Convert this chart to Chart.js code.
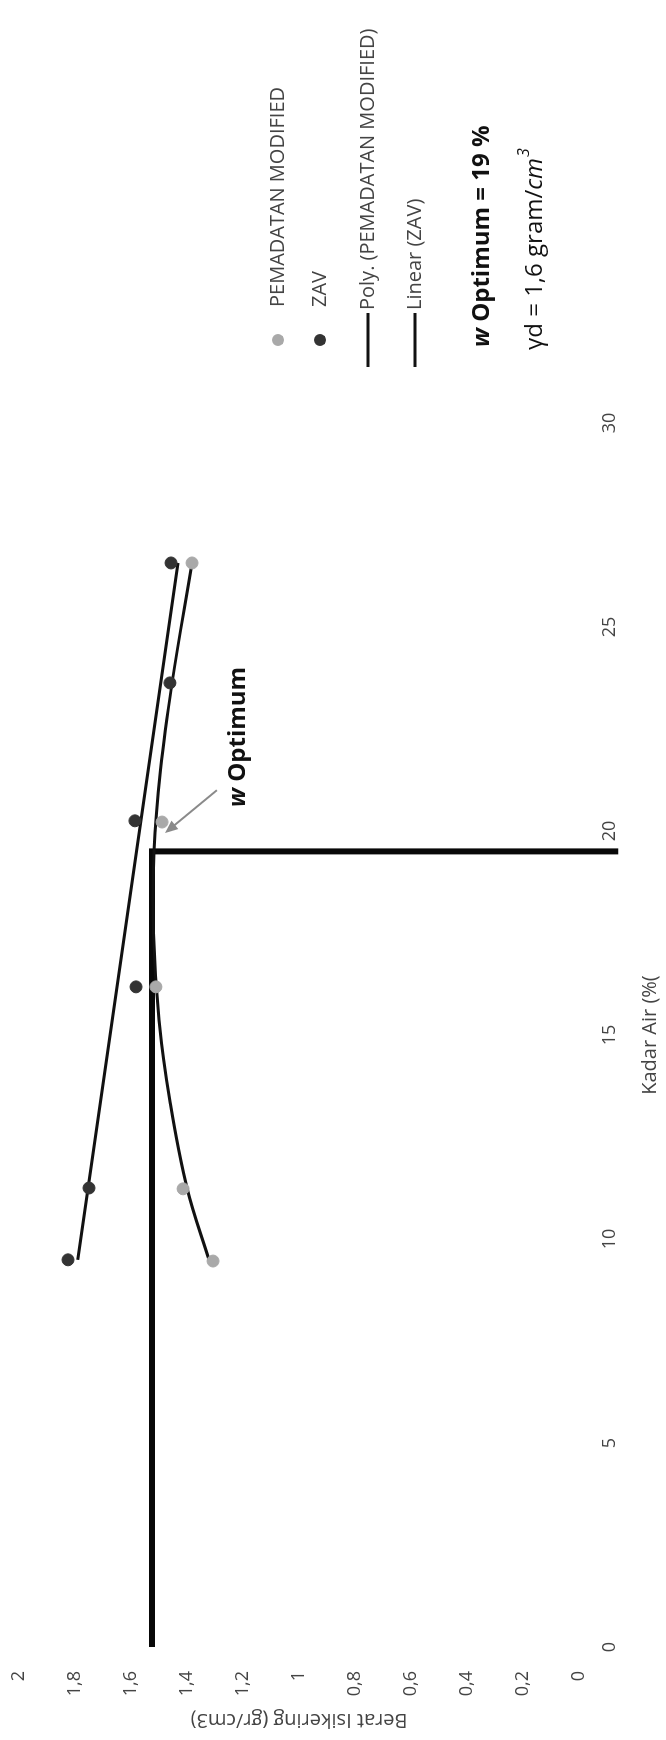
<!DOCTYPE html>
<html>
<head>
<meta charset="utf-8">
<script src="https://cdn.jsdelivr.net/npm/chart.js@4.4.1/dist/chart.umd.min.js"></script>
<style>
  html, body { margin: 0; padding: 0; overflow: hidden; background: #fff; width: 666px; height: 1740px; }
  /* chart is drawn landscape and turned a quarter to the left, like the scan */
  #wrap { position: absolute; left: 0; top: 1740px; width: 1740px; height: 666px; transform-origin: 0 0; transform: rotate(-90deg); }
</style>
</head>
<body>
<div id="wrap"><canvas id="c" width="1740" height="666"></canvas></div>
<script>
// measured points
const pemX = [9.46, 11.23, 16.18, 20.22, 26.57];
const pemY = [1.307, 1.414, 1.511, 1.489, 1.382];
const zavX = [9.49, 11.25, 16.18, 20.25, 23.63, 26.57];
const zavY = [1.825, 1.75, 1.582, 1.586, 1.461, 1.457];

// trendlines
const polyX = [9.46, 11.25, 13.33, 15.37, 17.5, 19.5, 21.5, 23.6, 26.57];
const polyY = [1.32, 1.40, 1.46, 1.50, 1.52, 1.518, 1.495, 1.454, 1.382];
const linX = [9.49, 26.57];
const linY = [1.79, 1.432];

// optimum marker lines
const optX = [0, 19.5, 19.5];
const optY = [1.525, 1.525, -0.14];

const xTicks = [0, 5, 10, 15, 20, 25, 30];
const yTicks = [0, 0.2, 0.4, 0.6, 0.8, 1, 1.2, 1.4, 1.6, 1.8, 2];

const FONT = '"Open Sans", "Noto Sans", sans-serif';
const TEXT = '#444';

function pts(xs, ys) {
    return xs.map((x, i) => ({ x: x, y: ys[i] }));
}

const legendPlugin = {
    id: 'sideLegend',
    afterDraw(chart) {
        const ctx = chart.ctx;
        ctx.save();
        ctx.textBaseline = 'middle';
        ctx.textAlign = 'left';

        // legend entries
        ctx.font = '20px ' + FONT;
        ctx.fillStyle = '#a9a9a9';
        ctx.beginPath(); ctx.arc(1400, 278, 6, 0, Math.PI * 2); ctx.fill();
        ctx.fillStyle = '#333';
        ctx.beginPath(); ctx.arc(1400, 320, 6, 0, Math.PI * 2); ctx.fill();
        ctx.strokeStyle = '#111';
        ctx.lineWidth = 3;
        ctx.beginPath(); ctx.moveTo(1373, 368); ctx.lineTo(1427, 368); ctx.stroke();
        ctx.beginPath(); ctx.moveTo(1373, 415); ctx.lineTo(1427, 415); ctx.stroke();

        ctx.fillStyle = TEXT;
        ctx.fillText('PEMADATAN MODIFIED', 1433, 278);
        ctx.fillText('ZAV', 1433, 320);
        ctx.fillText('Poly. (PEMADATAN MODIFIED)', 1430, 368);
        ctx.fillText('Linear (ZAV)', 1430, 415);

        // w Optimum = 19 %
        ctx.fillStyle = '#111';
        let u = 1393;
        ctx.font = 'italic bold 24px ' + FONT;
        ctx.fillText('w', u, 482);
        u += ctx.measureText('w').width;
        ctx.font = 'bold 24px ' + FONT;
        ctx.fillText(' Optimum = 19 %', u, 482);

        // γd = 1,6 gram/cm3
        u = 1390;
        ctx.font = '24px ' + FONT;
        ctx.fillText('\u03b3d = 1,6 gram/', u, 535);
        u += ctx.measureText('\u03b3d = 1,6 gram/').width;
        ctx.font = 'italic 24px ' + FONT;
        ctx.fillText('cm', u, 535);
        u += ctx.measureText('cm').width + 1;
        ctx.font = 'italic 16px ' + FONT;
        ctx.fillText('3', u, 524);

        // arrow + label at the optimum
        const xs = chart.scales.x, ys = chart.scales.y;
        const tx = xs.getPixelForValue(21.0), ty = ys.getPixelForValue(1.293);
        const hx = xs.getPixelForValue(19.95), hy = ys.getPixelForValue(1.479);
        const ang = Math.atan2(hy - ty, hx - tx);
        ctx.strokeStyle = '#8a8a8a';
        ctx.fillStyle = '#8a8a8a';
        ctx.lineWidth = 2;
        ctx.beginPath(); ctx.moveTo(tx, ty); ctx.lineTo(hx - 8 * Math.cos(ang), hy - 8 * Math.sin(ang)); ctx.stroke();
        ctx.beginPath();
        ctx.moveTo(hx, hy);
        ctx.lineTo(hx - 14 * Math.cos(ang - 0.4), hy - 14 * Math.sin(ang - 0.4));
        ctx.lineTo(hx - 14 * Math.cos(ang + 0.4), hy - 14 * Math.sin(ang + 0.4));
        ctx.closePath();
        ctx.fill();

        ctx.fillStyle = '#111';
        u = xs.getPixelForValue(20.59);
        const v = ys.getPixelForValue(1.218);
        ctx.font = 'italic bold 24px ' + FONT;
        ctx.fillText('w', u, v);
        u += ctx.measureText('w').width;
        ctx.font = 'bold 24px ' + FONT;
        ctx.fillText(' Optimum', u, v);
        ctx.restore();
    }
};

const ctx = document.getElementById('c').getContext('2d');
const chart = new Chart(ctx, {
    type: 'scatter',
    data: {
        datasets: [
            {
                label: 'ZAV',
                data: pts(zavX, zavY),
                pointRadius: 6,
                pointBackgroundColor: '#333',
                pointBorderColor: '#333',
                showLine: false
            },
            {
                label: 'PEMADATAN MODIFIED',
                data: pts(pemX, pemY),
                pointRadius: 6,
                pointBackgroundColor: '#a9a9a9',
                pointBorderColor: '#a9a9a9',
                showLine: false
            },
            {
                label: 'Poly. (PEMADATAN MODIFIED)',
                data: pts(polyX, polyY),
                showLine: true,
                pointRadius: 0,
                borderColor: '#111',
                borderWidth: 3,
                tension: 0.4
            },
            {
                label: 'Linear (ZAV)',
                data: pts(linX, linY),
                showLine: true,
                pointRadius: 0,
                borderColor: '#111',
                borderWidth: 3
            },
            {
                label: 'optimum',
                data: pts(optX, optY),
                showLine: true,
                pointRadius: 0,
                borderColor: '#080808',
                borderWidth: 6,
                clip: false
            }
        ]
    },
    options: {
        responsive: false,
        animation: false,
        devicePixelRatio: 1,
        layout: { padding: { left: 4, top: 19, right: 423, bottom: 0 } },
        plugins: {
            legend: { display: false },
            tooltip: { enabled: false }
        },
        scales: {
            x: {
                type: 'linear',
                min: 0,
                max: 30,
                afterFit: s => { s.height = 87; },
                afterBuildTicks: s => { s.ticks = xTicks.map(v => ({ value: v })); },
                grid: { display: false, drawTicks: false },
                border: { display: false },
                ticks: { padding: 20, color: TEXT, font: { family: FONT, size: 18 } },
                title: { display: true, text: 'Kadar Air (%(', color: TEXT, font: { family: FONT, size: 20 }, padding: { top: 4, bottom: 4 } }
            },
            y: {
                type: 'linear',
                min: 0,
                max: 2,
                afterFit: s => { s.width = 89; },
                afterBuildTicks: s => { s.ticks = yTicks.map(v => ({ value: v })); },
                // invisible tick marks give the label gap without padding the top
                grid: { display: true, drawOnChartArea: false, drawTicks: true, tickLength: 24, color: 'rgba(0,0,0,0)' },
                border: { display: false },
                ticks: {
                    padding: 0,
                    color: TEXT,
                    font: { family: FONT, size: 18 },
                    callback: v => String(Math.round(v * 10) / 10).replace('.', ',')
                },
                title: { display: true, text: 'Berat Isikering (gr/cm3)', color: TEXT, font: { family: FONT, size: 20 }, padding: { top: 4, bottom: 4 } }
            }
        }
    },
    plugins: [legendPlugin]
});
</script>
</body>
</html>
